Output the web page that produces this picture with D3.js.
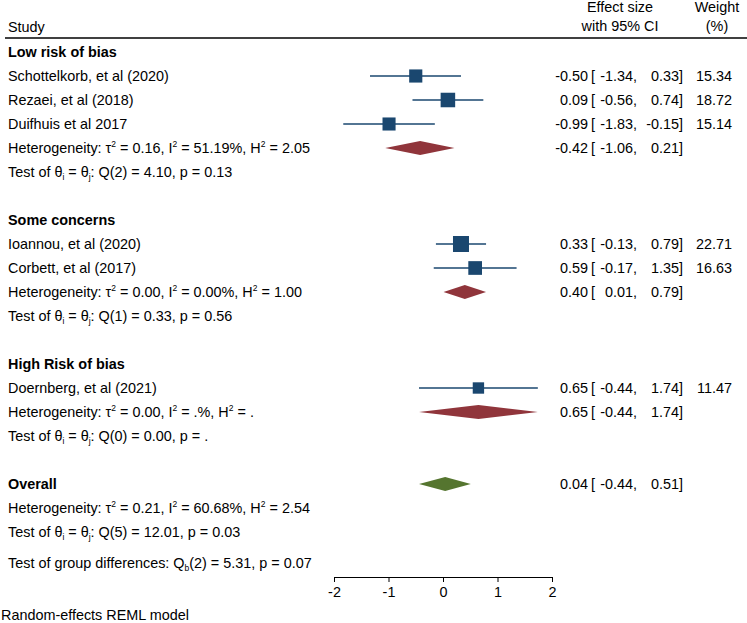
<!DOCTYPE html>
<html lang="en">
<head>
<meta charset="utf-8">
<style>
  body { margin: 0; background: white; }
  svg { font-family: 'Liberation Sans', Arial, sans-serif; font-size: 14.4px; }
  .axis path, .axis line { stroke: black; }
  .axis text { font-size: 14.4px; font-family: 'Liberation Sans', Arial, sans-serif; fill: black; }
</style>
</head>
<body>
<svg width="747" height="623"></svg>
<script src="https://cdn.jsdelivr.net/npm/d3@7"></script>
<script>
// study level results
const studyNames = ["Schottelkorb, et al (2020)", "Rezaei, et al (2018)", "Duifhuis et al 2017",
                    "Ioannou, et al (2020)", "Corbett, et al (2017)", "Doernberg, et al (2021)"]
const studyGroup = [0, 0, 0, 1, 1, 2]
const studyEst = [-0.50, 0.09, -0.99, 0.33, 0.59, 0.65]
const studyLo = [-1.34, -0.56, -1.83, -0.13, -0.17, -0.44]
const studyHi = [0.33, 0.74, -0.15, 0.79, 1.35, 1.74]
const studyWeight = [15.34, 18.72, 15.14, 22.71, 16.63, 11.47]

// subgroup results
const groupNames = ["Low risk of bias", "Some concerns", "High Risk of bias"]
const groupEst = [-0.42, 0.40, 0.65]
const groupLo = [-1.06, 0.01, -0.44]
const groupHi = [0.21, 0.79, 1.74]
const groupTau2 = ["0.16", "0.00", "0.00"]
const groupI2 = ["51.19", "0.00", "."]
const groupH2 = ["2.05", "1.00", "."]
const groupQdf = [2, 1, 0]
const groupQ = ["4.10", "0.33", "0.00"]
const groupP = ["0.13", "0.56", "."]

// overall
const overallEst = 0.04, overallLo = -0.44, overallHi = 0.51
const overallTau2 = "0.21", overallI2 = "60.68", overallH2 = "2.54"
const overallQdf = 5, overallQ = "12.01", overallP = "0.03"
const groupDiffDf = 2, groupDiffQ = "5.31", groupDiffP = "0.07"

const xTicks = [-2, -1, 0, 1, 2]

const svg = d3.select("svg")
const loc = d3.formatLocale({ decimal: ".", thousands: ",", grouping: [3], currency: ["", ""], minus: "-" })
const fmt = loc.format(".2f")

const x = d3.scaleLinear().domain([-2, 2]).range([334, 552])
const rowY = d3.scaleLinear().domain([0, 20]).range([52, 532])
const side = d3.scaleSqrt().domain([0, 22.71]).range([0, 16])

const navy = "#1a476f", maroon = "#90353b", green = "#55752f"
const left = 8
const base = 5

// write text made of pieces: [string, "sup"|"sub"|undefined]
function rich(g, xx, yy, parts, bold) {
  const t = g.append("text").attr("x", xx).attr("y", yy + base)
  if (bold) t.attr("font-weight", "bold")
  let shift = 0
  parts.forEach(function (p) {
    const ts = t.append("tspan")
    if (p[1] === "sup") {
      ts.attr("font-size", 8.5).attr("dy", -6 - shift); shift = -6
    } else if (p[1] === "sub") {
      ts.attr("font-size", 8.5).attr("dy", 2.5 - shift); shift = 2.5
    } else if (shift !== 0) {
      ts.attr("dy", -shift); shift = 0
    }
    ts.text(p[0])
  })
  return t
}

function hetParts(tau2, i2, h2) {
  return [["Heterogeneity: \u03c4"], ["2", "sup"], [" = " + tau2 + ", I"], ["2", "sup"],
          [" = " + i2 + "%, H"], ["2", "sup"], [" = " + h2]]
}
function testParts(df, q, p) {
  return [["Test of \u03b8"], ["i", "sub"], [" = \u03b8"], ["j", "sub"], [": Q(" + df + ") = " + q + ", p = " + p]]
}

function ciText(g, yy, est, lo, hi, w) {
  const b = yy + base
  g.append("text").attr("x", 588).attr("y", b).attr("text-anchor", "end").text(fmt(est))
  g.append("text").attr("x", 591).attr("y", b).text("[")
  g.append("text").attr("x", 637).attr("y", b).attr("text-anchor", "end").text(fmt(lo) + ",")
  g.append("text").attr("x", 683).attr("y", b).attr("text-anchor", "end").text(fmt(hi) + "]")
  if (w != null) g.append("text").attr("x", 732).attr("y", b).attr("text-anchor", "end").text(fmt(w))
}

function diamond(g, yy, lo, est, hi, col) {
  const h = 7
  g.append("path")
    .attr("d", "M" + x(lo) + "," + yy + "L" + x(est) + "," + (yy - h) + "L" + x(hi) + "," + yy +
               "L" + x(est) + "," + (yy + h) + "Z")
    .attr("fill", col)
}

// header
const head = svg.append("g")
head.append("text").attr("x", left).attr("y", 32).text("Study")
head.append("text").attr("x", 620).attr("y", 12).attr("text-anchor", "middle").text("Effect size")
head.append("text").attr("x", 620).attr("y", 31).attr("text-anchor", "middle").text("with 95% CI")
head.append("text").attr("x", 717).attr("y", 12).attr("text-anchor", "middle").text("Weight")
head.append("text").attr("x", 717).attr("y", 31).attr("text-anchor", "middle").text("(%)")
head.append("line").attr("x1", 5).attr("x2", 747).attr("y1", 38).attr("y2", 38)
  .attr("stroke", "black").attr("stroke-width", 1.3)

const body = svg.append("g")
let row = 0
groupNames.forEach(function (gn, gi) {
  rich(body, left, rowY(row), [[gn]], true)
  row++
  studyNames.forEach(function (sn, si) {
    if (studyGroup[si] !== gi) return
    const yy = rowY(row)
    rich(body, left, yy, [[sn]])
    body.append("line").attr("x1", x(studyLo[si])).attr("x2", x(studyHi[si]))
      .attr("y1", yy).attr("y2", yy).attr("stroke", navy).attr("stroke-width", 1.3)
    const s = side(studyWeight[si])
    body.append("rect").attr("x", x(studyEst[si]) - s / 2).attr("y", yy - s / 2)
      .attr("width", s).attr("height", s).attr("fill", navy)
    ciText(body, yy, studyEst[si], studyLo[si], studyHi[si], studyWeight[si])
    row++
  })
  const yy = rowY(row)
  rich(body, left, yy, hetParts(groupTau2[gi], groupI2[gi], groupH2[gi]))
  diamond(body, yy, groupLo[gi], groupEst[gi], groupHi[gi], maroon)
  ciText(body, yy, groupEst[gi], groupLo[gi], groupHi[gi], null)
  row++
  rich(body, left, rowY(row), testParts(groupQdf[gi], groupQ[gi], groupP[gi]))
  row += 2
})

// overall
rich(body, left, rowY(row), [["Overall"]], true)
diamond(body, rowY(row), overallLo, overallEst, overallHi, green)
ciText(body, rowY(row), overallEst, overallLo, overallHi, null)
row++
rich(body, left, rowY(row), hetParts(overallTau2, overallI2, overallH2))
row++
rich(body, left, rowY(row), testParts(overallQdf, overallQ, overallP))
rich(body, left, rowY(row) + 31,
  [["Test of group differences: Q"], ["b", "sub"], ["(" + groupDiffDf + ") = " + groupDiffQ + ", p = " + groupDiffP]])

// axis
svg.append("g").attr("class", "axis")
  .attr("transform", "translate(0,577)")
  .call(d3.axisBottom(x).tickValues(xTicks).tickSize(5).tickSizeOuter(0).tickPadding(5)
    .tickFormat(loc.format("d")))

svg.append("text").attr("x", 1).attr("y", 620).text("Random-effects REML model")
</script>
</body>
</html>
